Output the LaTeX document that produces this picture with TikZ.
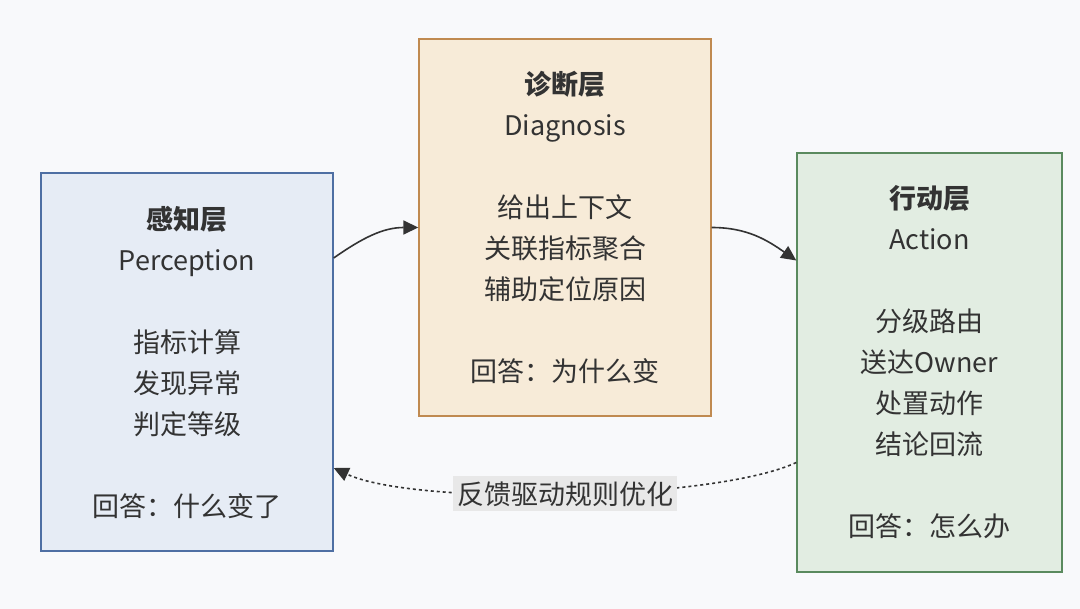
\documentclass[tikz,border=0pt]{standalone}
\usepackage{fontspec}
\setmainfont{Noto Sans CJK SC}
\usepackage{xcolor}
\usetikzlibrary{arrows.meta, positioning, calc}
\definecolor{pagebg}{RGB}{248, 249, 251}
\definecolor{inkgray}{RGB}{51, 51, 51}
\definecolor{percfill}{RGB}{230, 236, 245}
\definecolor{percline}{RGB}{78, 111, 163}
\definecolor{diagfill}{RGB}{247, 235, 216}
\definecolor{diagline}{RGB}{192, 138, 80}
\definecolor{actfill}{RGB}{226, 237, 226}
\definecolor{actline}{RGB}{90, 138, 94}
\definecolor{labelbg}{RGB}{232, 232, 232}

\tikzset{
  layerbox/.style={draw, line width=0.7pt, align=center, text=inkgray,
    inner sep=0pt, font=\fontsize{13.5}{20.5}\selectfont},
  flowarrow/.style={draw=inkgray, line width=0.8pt, -{Triangle[length=7.5pt, width=7pt]}},
  backarrow/.style={flowarrow, dash pattern=on 1.5pt off 1.5pt},
}

\begin{document}
\begin{tikzpicture}[x=0.5pt, y=-0.5pt]
  % page
  \fill[pagebg] (0,0) rectangle (1080,609);
  \useasboundingbox (0,0) rectangle (1080,609);

  % Perception layer
  \node[layerbox, fill=percfill, draw=percline, minimum width=146pt, minimum height=189pt]
    (perc) at (187,362) {\textbf{感知层}\\Perception\\[20.5pt]指标计算\\发现异常\\判定等级\\[20.5pt]回答：什么变了};

  % Diagnosis layer
  \node[layerbox, fill=diagfill, draw=diagline, minimum width=146pt, minimum height=188.5pt]
    (diag) at (565,227.5) {\textbf{诊断层}\\Diagnosis\\[20.5pt]给出上下文\\关联指标聚合\\辅助定位原因\\[20.5pt]回答：为什么变};

  % Action layer
  \node[layerbox, fill=actfill, draw=actline, minimum width=132.5pt, minimum height=209.5pt]
    (act) at (929.5,362.5) {\textbf{行动层}\\Action\\[20.5pt]分级路由\\送达Owner\\处置动作\\结论回流\\[20.5pt]回答：怎么办};

  % forward flow
  \draw[flowarrow] ([yshift=52pt]perc.east) to[out=35, in=180] (diag.west);
  \draw[flowarrow] (diag.east) to[out=0, in=145] ([yshift=51pt]act.west);

  % feedback loop
  \draw[backarrow] ([yshift=-50pt]act.west) to[out=205, in=-25, looseness=0.5]
    node[fill=labelbg, text=inkgray, inner xsep=2pt, inner ysep=2.5pt, font=\fontsize{13.5}{16}\selectfont] (fb) {反馈驱动规则优化}
    ([yshift=-53pt]perc.east);
\end{tikzpicture}
\end{document}
